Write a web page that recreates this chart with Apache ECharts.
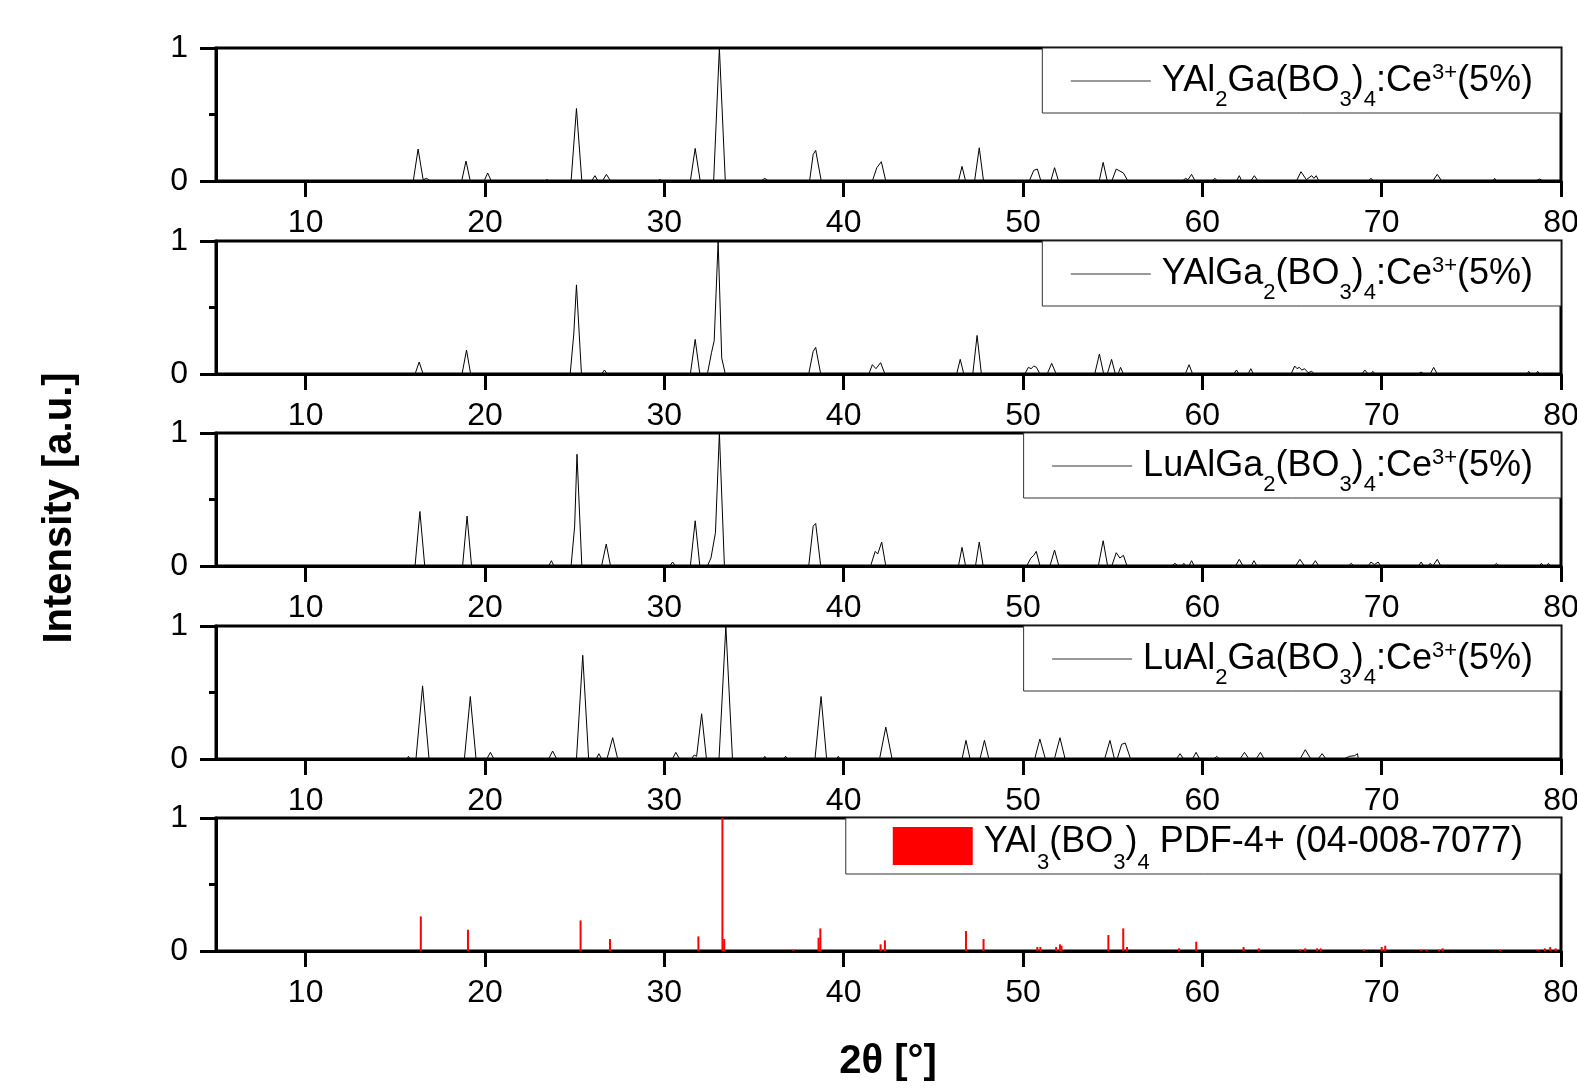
<!DOCTYPE html>
<html>
<head>
<meta charset="utf-8">
<script src="https://cdn.jsdelivr.net/npm/echarts@6/dist/echarts.min.js"></script>
<style>html,body{margin:0;padding:0;background:#fff}#c{width:1577px;height:1090px}</style>
</head>
<body>
<div id="c"></div>
<script>
// ---- data ----
const xMajorTicks = [10, 20, 30, 40, 50, 60, 70, 80];
const yTicks = [0, 1];
const seriesNames = [
  'YAl2Ga(BO3)4:Ce3+(5%)',
  'YAlGa2(BO3)4:Ce3+(5%)',
  'LuAlGa2(BO3)4:Ce3+(5%)',
  'LuAl2Ga(BO3)4:Ce3+(5%)',
  'YAl3(BO3)4 PDF-4+ (04-008-7077)'
];
const yal2ga = [
[5,0],[16.0,0],[16.27,0.24],[16.55,0.01],[16.75,0.02],[16.95,0],
[18.7,0],[18.94,0.15],[19.18,0],
[19.95,0],[20.15,0.06],[20.35,0],
[23.3,0],[23.46,0.01],[23.6,0],
[24.8,0],[25.1,0.545],[25.4,0],
[25.95,0],[26.13,0.04],[26.3,0],
[26.55,0],[26.77,0.05],[27.0,0],
[29.6,0],[29.76,0.01],[29.9,0],
[31.45,0],[31.72,0.245],[32.0,0],
[32.75,0],[33.07,1.0],[33.4,0],
[35.4,0],[35.6,0.02],[35.8,0],
[38.1,0],[38.3,0.2],[38.44,0.23],[38.75,0],
[40.9,0],[41.0,0.01],[41.1,0],
[41.6,0],[41.85,0.1],[42.1,0.145],[42.35,0],
[46.4,0],[46.6,0.11],[46.8,0],
[47.3,0],[47.56,0.25],[47.8,0],
[48.9,0],[49.0,0.01],[49.1,0],
[50.35,0],[50.6,0.08],[50.8,0.09],[51.0,0],
[51.55,0],[51.76,0.1],[51.98,0],
[54.25,0],[54.47,0.14],[54.7,0],
[54.95,0],[55.2,0.09],[55.6,0.06],[55.85,0],
[58.4,0],[58.5,0.01],[58.6,0],[58.9,0],[59.06,0.02],[59.2,0.01],[59.4,0.05],[59.6,0],
[60.55,0],[60.7,0.02],[60.85,0],
[61.9,0],[62.06,0.04],[62.2,0],
[62.7,0],[62.9,0.04],[63.1,0],
[65.25,0],[65.5,0.07],[65.8,0.01],[66.1,0.04],[66.22,0.02],[66.35,0.04],[66.5,0],
[69.25,0],[69.4,0.02],[69.55,0],
[72.1,0],[72.2,0.01],[72.3,0],
[72.85,0],[73.1,0.05],[73.35,0],
[76.2,0],[76.3,0.02],[76.4,0],
[78.6,0],[78.8,0.015],[79.0,0],
[80,0]];
const yalga2 = [
[5,0],[16.1,0],[16.33,0.09],[16.55,0],
[18.72,0],[18.97,0.18],[19.2,0],
[24.75,0],[24.95,0.3],[25.1,0.67],[25.38,0],
[26.5,0],[26.66,0.03],[26.82,0],
[31.45,0],[31.72,0.26],[31.98,0],
[32.4,0],[32.63,0.16],[32.78,0.25],[33.0,1.0],[33.2,0.12],[33.4,0],
[38.05,0],[38.3,0.17],[38.44,0.2],[38.72,0],
[41.4,0],[41.6,0.07],[41.8,0.04],[42.06,0.085],[42.3,0],
[46.3,0],[46.5,0.11],[46.7,0],
[47.2,0],[47.44,0.29],[47.68,0],
[50.1,0],[50.3,0.05],[50.45,0.04],[50.6,0.06],[50.75,0.05],[50.95,0],
[51.35,0],[51.6,0.08],[51.85,0],
[54.0,0],[54.26,0.15],[54.5,0],
[54.7,0],[54.94,0.11],[55.15,0],[55.3,0],[55.44,0.05],[55.6,0],
[58.1,0],[58.2,0.01],[58.3,0],
[59.05,0],[59.26,0.07],[59.46,0],
[61.75,0],[61.9,0.03],[62.05,0],
[62.55,0],[62.7,0.04],[62.85,0],
[64.95,0],[65.15,0.06],[65.28,0.04],[65.4,0.05],[65.55,0.03],[65.7,0.04],[65.9,0.01],[66.1,0.02],[66.25,0],
[67.8,0],[67.9,0.01],[68.0,0],
[68.9,0],[69.06,0.03],[69.25,0],[69.4,0],[69.5,0.02],[69.65,0],
[72.05,0],[72.2,0.015],[72.35,0],
[72.7,0],[72.9,0.05],[73.1,0],
[75.8,0],[75.9,0.01],[76.0,0],
[78.1,0],[78.2,0.02],[78.3,0],[78.6,0],[78.7,0.02],[78.8,0],
[80,0]];
const lualga2 = [
[5,0],[16.1,0],[16.37,0.41],[16.64,0],
[18.75,0],[19.0,0.375],[19.25,0],
[23.55,0],[23.7,0.04],[23.85,0],
[24.8,0],[25.0,0.3],[25.13,0.84],[25.4,0],
[26.5,0],[26.76,0.165],[27.0,0],
[30.3,0],[30.46,0.03],[30.62,0],
[31.45,0],[31.72,0.34],[31.98,0],
[32.4,0],[32.6,0.06],[32.85,0.25],[33.07,1.0],[33.35,0],
[38.05,0],[38.3,0.3],[38.44,0.32],[38.72,0],
[41.5,0],[41.76,0.11],[41.9,0.09],[42.12,0.18],[42.35,0],
[46.4,0],[46.6,0.14],[46.8,0],
[47.35,0],[47.56,0.18],[47.78,0],
[50.2,0],[50.44,0.06],[50.6,0.08],[50.74,0.11],[50.95,0],
[51.5,0],[51.76,0.12],[52.0,0],
[54.2,0],[54.47,0.19],[54.72,0],
[54.95,0],[55.2,0.1],[55.4,0.06],[55.6,0.08],[55.8,0],
[58.3,0],[58.47,0.02],[58.65,0],[58.85,0],[58.97,0.02],[59.1,0],[59.25,0],[59.4,0.04],[59.55,0],
[61.85,0],[62.06,0.05],[62.27,0],
[62.72,0],[62.88,0.04],[63.05,0],
[65.2,0],[65.44,0.05],[65.7,0],
[66.1,0],[66.3,0.04],[66.5,0],
[68.15,0],[68.3,0.02],[68.45,0],
[69.25,0],[69.4,0.03],[69.6,0.01],[69.8,0.03],[69.95,0],
[72.05,0],[72.2,0.03],[72.35,0],[72.6,0],[72.7,0.02],[72.85,0],[72.95,0],[73.1,0.05],[73.3,0],
[76.25,0],[76.4,0.02],[76.55,0],
[78.8,0],[78.9,0.02],[79.05,0],[79.2,0],[79.3,0.02],[79.4,0],
[80,0]];
const lual2ga = [
[15.5,0],[15.65,0],[15.73,0.02],[15.85,0],
[16.15,0],[16.52,0.55],[16.88,0],
[18.85,0],[19.18,0.47],[19.5,0],
[20.1,0],[20.3,0.05],[20.5,0],
[23.55,0],[23.77,0.06],[24.0,0],
[25.1,0],[25.45,0.78],[25.78,0],
[26.2,0],[26.35,0.04],[26.5,0],
[26.8,0],[27.12,0.16],[27.4,0],
[30.45,0],[30.64,0.05],[30.85,0],
[31.5,0],[31.67,0.03],[31.8,0.02],[32.08,0.34],[32.35,0],
[33.05,0],[33.43,1.0],[33.8,0],
[35.5,0],[35.6,0.02],[35.7,0],
[36.65,0],[36.76,0.02],[36.87,0],
[38.4,0],[38.74,0.47],[39.05,0],
[39.6,0],[39.7,0.02],[39.8,0],
[42.0,0],[42.35,0.24],[42.7,0],
[46.6,0],[46.82,0.14],[47.05,0],
[47.6,0],[47.85,0.14],[48.1,0],
[50.65,0],[50.94,0.15],[51.25,0],
[51.75,0],[52.06,0.16],[52.35,0],
[54.55,0],[54.85,0.14],[55.1,0],
[55.25,0],[55.5,0.11],[55.7,0.12],[56.0,0],
[58.55,0],[58.76,0.04],[58.95,0],
[59.45,0],[59.65,0.05],[59.85,0],
[60.65,0],[60.8,0.02],[60.95,0],
[62.1,0],[62.35,0.05],[62.6,0],
[63.0,0],[63.24,0.05],[63.45,0],
[65.45,0],[65.74,0.07],[66.05,0],
[66.45,0],[66.68,0.04],[66.9,0],
[67.9,0],[68.2,0.02],[68.5,0.025],[68.65,0.04],[68.7,0]];
const refPos = [16.42,19.05,25.33,26.97,31.9,33.24,33.34,37.2,38.6,38.7,42.06,42.3,46.82,47.8,50.8,50.97,51.85,52.06,52.15,54.76,55.59,55.8,58.7,59.66,62.3,63.15,65.44,65.74,66.4,66.6,69.0,70.0,70.2,72.2,72.5,73.2,73.4,76.6,78.7,79.1,79.4,79.7];
const refInt = [0.26,0.16,0.23,0.09,0.11,1.0,0.09,0.01,0.1,0.17,0.05,0.08,0.15,0.09,0.03,0.03,0.03,0.05,0.04,0.12,0.17,0.03,0.02,0.07,0.03,0.02,0.01,0.02,0.02,0.02,0.01,0.03,0.04,0.01,0.01,0.01,0.02,0.01,0.01,0.02,0.03,0.02];

// ---- layout ----
const FONT = 'Liberation Sans, Arial, Helvetica, sans-serif';
const tops = [48, 241, 433, 626, 818];
const gridH = 133;

const chart = echarts.init(document.getElementById('c'), null, {renderer: 'canvas'});

const grid = tops.map(t => ({left: 216, right: 16, top: t, height: gridH, show: true,
  borderColor: '#000', borderWidth: 3, outerBoundsMode: 'none'}));

const tickStyle = () => ({color: '#000', width: 3});
const xAxis = tops.map((t, i) => ({gridIndex: i, type: 'value', min: 5, max: 80, position: 'bottom',
  axisLine: {onZero: false, lineStyle: {color: '#000', width: 3}},
  axisTick: {show: true, customValues: xMajorTicks, length: 16, lineStyle: tickStyle()},
  axisLabel: {customValues: xMajorTicks, fontSize: 32, margin: 26, color: '#000', fontFamily: FONT},
  splitLine: {show: false}}));
const yAxis = tops.map((t, i) => ({gridIndex: i, type: 'value', min: 0, max: 1, interval: 1, position: 'left',
  axisLine: {show: true, onZero: false, lineStyle: {color: '#000', width: 3}},
  axisTick: {show: true, length: 16, lineStyle: tickStyle()},
  minorTick: {show: true, splitNumber: 2, length: 7, lineStyle: tickStyle()},
  axisLabel: {customValues: yTicks, margin: 28, fontSize: 32, color: '#000', fontFamily: FONT},
  splitLine: {show: false}, minorSplitLine: {show: false}}));

const lineData = [yal2ga, yalga2, lualga2, lual2ga];
const series = lineData.map((d, i) => ({
  name: seriesNames[i], type: 'line', xAxisIndex: i, yAxisIndex: i,
  data: d, symbol: 'none', showSymbol: false, smooth: false,
  lineStyle: {color: '#000', width: 1}, itemStyle: {color: '#000'}, z: 2
}));
series.push({
  name: seriesNames[4], type: 'bar', xAxisIndex: 4, yAxisIndex: 4,
  data: refPos.map((x, k) => [x, refInt[k]]), barWidth: 2,
  itemStyle: {color: '#ff0000'}, z: 2
});

const richA = {
  f: {fontSize: 36, fontFamily: FONT, color: '#000', lineHeight: 50, verticalAlign: 'middle', padding: [0, 0, 0, 6]},
  n: {fontSize: 36, fontFamily: FONT, color: '#000', lineHeight: 50, verticalAlign: 'middle'},
  sub: {fontSize: 22, fontFamily: FONT, color: '#000', lineHeight: 10, verticalAlign: 'middle', padding: [38, 0, 0, 0]},
  sup: {fontSize: 22, fontFamily: FONT, color: '#000', lineHeight: 10, verticalAlign: 'middle', padding: [0, 0, 16, 0]}
};
const richB = {
  f: {fontSize: 36, fontFamily: FONT, color: '#000', lineHeight: 40, verticalAlign: 'top', padding: [6, 0, 0, 6]},
  n: {fontSize: 36, fontFamily: FONT, color: '#000', lineHeight: 40, verticalAlign: 'top', padding: [6, 0, 0, 0]},
  sub: {fontSize: 22, fontFamily: FONT, color: '#000', lineHeight: 56, verticalAlign: 'bottom'}
};
const legendLabels = [
  '{f|YAl}{sub|2}{n|Ga(BO}{sub|3}{n|)}{sub|4}{n|:Ce}{sup|3+}{n|(5%)}',
  '{f|YAlGa}{sub|2}{n|(BO}{sub|3}{n|)}{sub|4}{n|:Ce}{sup|3+}{n|(5%)}',
  '{f|LuAlGa}{sub|2}{n|(BO}{sub|3}{n|)}{sub|4}{n|:Ce}{sup|3+}{n|(5%)}',
  '{f|LuAl}{sub|2}{n|Ga(BO}{sub|3}{n|)}{sub|4}{n|:Ce}{sup|3+}{n|(5%)}',
  '{f|YAl}{sub|3}{n|(BO}{sub|3}{n|)}{sub|4}{n| PDF-4+ (04-008-7077)}'
];
const legend = tops.map((t, i) => ({
  data: [seriesNames[i]],
  icon: i < 4 ? undefined : 'rect',
  right: 16, top: t, orient: 'horizontal',
  backgroundColor: '#fff', borderColor: '#333', borderWidth: 1, borderRadius: 0,
  padding: i < 4 ? [3, 28, 2, 28] : [0, 38, 0, 47],
  itemWidth: 80, itemHeight: i < 4 ? 14 : 38, selectedMode: false, z: 10,
  itemStyle: i < 4 ? {color: 'rgba(0,0,0,0)', borderColor: 'rgba(0,0,0,0)', borderWidth: 0} : {color: '#ff0000'},
  lineStyle: {color: '#333', width: 1},
  formatter: () => legendLabels[i],
  textStyle: {rich: i < 4 ? richA : richB}
}));

const option = {
  animation: false,
  grid, xAxis, yAxis, series, legend,
  graphic: [
    {type: 'text', x: 60, y: 508, rotation: Math.PI / 2,
     style: {text: 'Intensity [a.u.]', font: 'bold 40px ' + FONT, fill: '#000', align: 'center', verticalAlign: 'middle'}},
    {type: 'text', x: 888, y: 1062,
     style: {text: '2θ [°]', font: 'bold 40px ' + FONT, fill: '#000', align: 'center', verticalAlign: 'middle'}}
  ]
};
chart.setOption(option);
</script>
</body>
</html>
